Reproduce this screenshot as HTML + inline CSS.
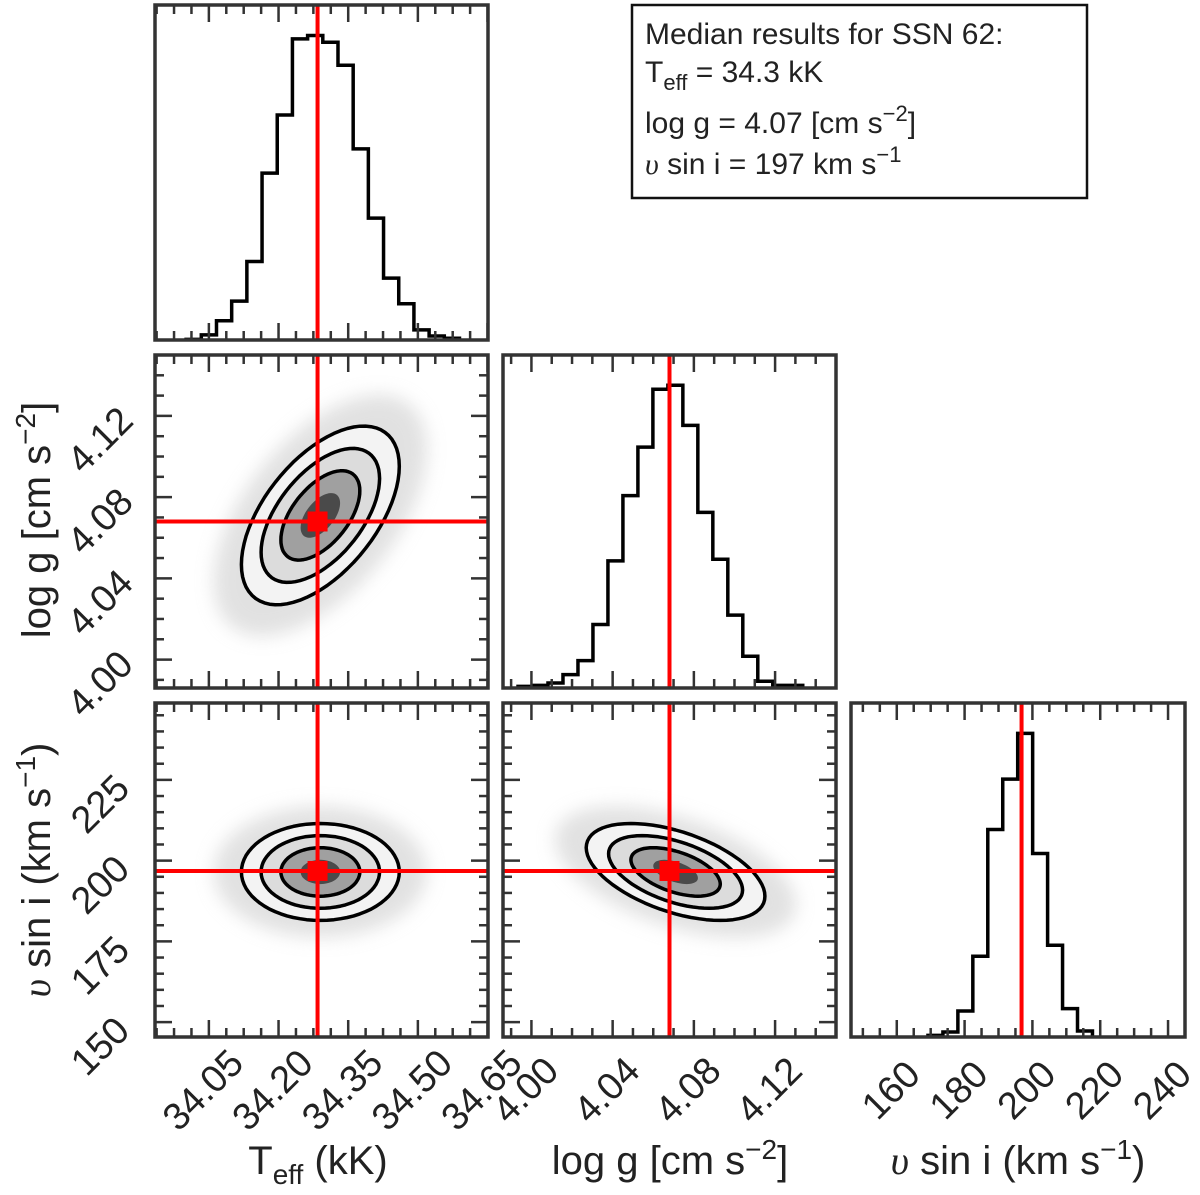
<!DOCTYPE html>
<html><head><meta charset="utf-8"><style>
html,body{margin:0;padding:0;background:#fff;}
svg{display:block;font-family:"Liberation Sans",sans-serif;}
</style></head><body>
<svg id="fig" width="1200" height="1195" viewBox="0 0 1200 1195" xmlns="http://www.w3.org/2000/svg">
<defs>
<filter id="blur" x="-50%" y="-50%" width="200%" height="200%"><feGaussianBlur stdDeviation="9"/></filter>
</defs>
<g id="layer"></g>
<g>
<rect x="632" y="5" width="455" height="193" fill="#fff" stroke="#111" stroke-width="2.5"/>
<text x="645" y="44" font-size="30" fill="#222">Median results for SSN 62:</text>
<text x="645" y="82" font-size="30" fill="#222">T<tspan font-size="22" dy="8">eff</tspan><tspan dy="-8"> = 34.3 kK</tspan></text>
<text x="645" y="133" font-size="30" fill="#222">log g = 4.07 [cm s<tspan font-size="22" dy="-12">−2</tspan><tspan dy="12">]</tspan></text>
<text x="645" y="174" font-size="30" fill="#222"><tspan font-family="Liberation Serif" font-style="italic">υ</tspan> sin i = 197 km s<tspan font-size="22" dy="-12">−1</tspan></text>
</g>
<text transform="translate(50,520) rotate(-90)" text-anchor="middle" font-size="40" fill="#222">log g [cm s<tspan font-size="28" dy="-15">−2</tspan><tspan dy="15">]</tspan></text>
<text transform="translate(50,870) rotate(-90)" text-anchor="middle" font-size="40" fill="#222"><tspan font-family="Liberation Serif" font-style="italic">υ</tspan> sin i (km s<tspan font-size="28" dy="-15">−1</tspan><tspan dy="15">)</tspan></text>
<text x="318" y="1174" text-anchor="middle" font-size="40" fill="#222">T<tspan font-size="28" dy="10">eff</tspan><tspan dy="-10"> (kK)</tspan></text>
<text x="670" y="1174" text-anchor="middle" font-size="40" fill="#222">log g [cm s<tspan font-size="28" dy="-15">−2</tspan><tspan dy="15">]</tspan></text>
<text x="1018" y="1174" text-anchor="middle" font-size="40" fill="#222"><tspan font-family="Liberation Serif" font-style="italic">υ</tspan> sin i (km s<tspan font-size="28" dy="-15">−1</tspan><tspan dy="15">)</tspan></text>
</svg>
<script>
// ---- data ----
const paramNames = ['teff','logg','vsini'];
const medians = [34.284, 4.068, 196.8];
const means = [34.29, 4.071, 196.5];
const sigmas = [0.085, 0.022, 7.5];
const corrTeffLogg = 0.55;
const corrTeffVsini = 0.0;
const corrLoggVsini = -0.5;
const contourLevels = [2, 1.5, 1];
const teffHistStart = 34.001, teffHistWidth = 0.0327;
const teffHistCounts = [2,15,57,115,232,493,665,890,900,880,812,565,360,183,107,30,12,5];
const loggHistStart = 3.9934, loggHistWidth = 0.00738;
const loggHistCounts = [5,8,15,40,82,190,380,575,720,893,905,785,525,385,218,95,20,8,8];
const vsiniHistStart = 169.2, vsiniHistWidth = 4.41;
const vsiniHistCounts = [5,15,78,242,622,773,910,550,275,85,18];
const teffTicks = [34.05,34.20,34.35,34.50,34.65];
const teffTickLabels = ['34.05','34.20','34.35','34.50','34.65'];
const loggTicks = [4.00,4.04,4.08,4.12];
const loggTickLabels = ['4.00','4.04','4.08','4.12'];
const vsiniYTicks = [150,175,200,225];
const vsiniYTickLabels = ['150','175','200','225'];
const vsiniXTicks = [160,180,200,220,240];
const vsiniXTickLabels = ['160','180','200','220','240'];

// ---- axes ----
const NS='http://www.w3.org/2000/svg';
const layer=document.getElementById('layer');
const cols=[[155,488],[503,836],[851,1185]];
const rows=[[5,340],[355,688],[703,1037]];
const xDom={teff:[33.934,34.651],logg:[3.986,4.150],vsini:[146.5,245.0]};
const yDom={logg:[3.986,4.150],vsini:[145.4,248.8]};
function sx(p,col,v){const d=xDom[p],c=cols[col];return c[0]+(v-d[0])/(d[1]-d[0])*(c[1]-c[0]);}
function sy(p,row,v){const d=yDom[p],r=rows[row];return r[1]-(v-d[0])/(d[1]-d[0])*(r[1]-r[0]);}
function mk(tag,attrs,parent){const e=document.createElementNS(NS,tag);for(const k in attrs)e.setAttribute(k,attrs[k]);(parent||layer).appendChild(e);return e;}
let clipId=0;
function panelGroup(col,row,name){
  const c=cols[col],r=rows[row];const id='clip'+(clipId++);
  const cp=mk('clipPath',{id:id});mk('rect',{x:c[0],y:r[0],width:c[1]-c[0],height:r[1]-r[0]},cp);
  const g=mk('g',{'clip-path':'url(#'+id+')'});
  
  
  return g;
}
function frame(col,row,xt,xminor,xp,yt,yminor,yp){
  const c=cols[col],r=rows[row];
  const g=mk('g',{stroke:'#333','stroke-width':2.5});
  
  
  if(xt){const d=xDom[xp];
    for(let v=Math.ceil((d[0]-1e-9)/xminor)*xminor;v<=d[1]+1e-9;v+=xminor){
      const x=sx(xp,col,v);const major=xt.some(t=>Math.abs(t-v)<xminor/4);const L=major?17:9;
      mk('line',{x1:x,x2:x,y1:r[1],y2:r[1]-L},g);mk('line',{x1:x,x2:x,y1:r[0],y2:r[0]+L},g);}
  }
  if(yt){const d=yDom[yp];
    for(let v=Math.ceil((d[0]-1e-9)/yminor)*yminor;v<=d[1]+1e-9;v+=yminor){
      const y=sy(yp,row,v);const major=yt.some(t=>Math.abs(t-v)<yminor/4);const L=major?17:9;
      mk('line',{x1:c[0],x2:c[0]+L,y1:y,y2:y},g);mk('line',{x1:c[1],x2:c[1]-L,y1:y,y2:y},g);}
  }
  mk('rect',{x:c[0],y:r[0],width:c[1]-c[0],height:r[1]-r[0],fill:'none',stroke:'#333','stroke-width':3.5},g);
}
function hist(col,row,p,start,w,counts,name){
  const g=panelGroup(col,row,name);const r=rows[row];const mx=Math.max(...counts);
  const hs=(r[1]-r[0])/1.1;let d='M'+sx(p,col,start)+','+r[1];
  counts.forEach((cnt,i)=>{const x0=sx(p,col,start+i*w),x1=sx(p,col,start+(i+1)*w),y=r[1]-cnt/mx*hs;d+=' L'+x0+','+y+' L'+x1+','+y;});
  d+=' L'+sx(p,col,start+counts.length*w)+','+r[1];
  const path=mk('path',{d:d,fill:'none',stroke:'#000','stroke-width':3.5},g);
  
  
  const x=sx(p,col,medians[paramNames.indexOf(p)]);
  const ml=mk('line',{x1:x,x2:x,y1:r[0],y2:r[1],stroke:'#f00','stroke-width':4},g);
  
  
}
function ell(px,py,col,row,rho,k){
  const i=paramNames.indexOf(px),j=paramNames.indexOf(py);let pts=[];
  for(let a=0;a<72;a++){const t=a/72*2*Math.PI;
    const vx=means[i]+k*sigmas[i]*Math.cos(t);
    const vy=means[j]+k*sigmas[j]*(rho*Math.cos(t)+Math.sqrt(1-rho*rho)*Math.sin(t));
    pts.push(sx(px,col,vx).toFixed(1)+','+sy(py,row,vy).toFixed(1));}
  return pts.join(' ');
}
function scatter2d(col,row,px,py,rho,name){
  const g=panelGroup(col,row,name);const c=cols[col],r=rows[row];
  const cloud=mk('polygon',{points:ell(px,py,col,row,rho,2.7),fill:'#c4c4c4',opacity:0.5,filter:'url(#blur)'},g);
  
  
  const fills=[[2,'#f3f3f3'],[1.5,'#dcdcdc'],[1,'#a0a0a0'],[0.5,'#4a4a4a']];
  fills.forEach(f=>{const e=mk('polygon',{points:ell(px,py,col,row,rho,f[0]),fill:f[1]},g);
    
    });
  contourLevels.forEach(k=>{const e=mk('polygon',{points:ell(px,py,col,row,rho,k),fill:'none',stroke:'#000','stroke-width':3.5,'stroke-linejoin':'round'},g);
    
    });
  const mx=sx(px,col,medians[paramNames.indexOf(px)]),my=sy(py,row,medians[paramNames.indexOf(py)]);
  const l1=mk('line',{x1:mx,x2:mx,y1:r[0],y2:r[1],stroke:'#f00','stroke-width':4},g);
  
  
  const l2=mk('line',{x1:c[0],x2:c[1],y1:my,y2:my,stroke:'#f00','stroke-width':4},g);
  
  
  const sq=mk('rect',{x:mx-10,y:my-10,width:20,height:20,fill:'#f00'},g);
  
  
}
function xLabels(col,p,ticks,labels){
  ticks.forEach((v,i)=>{const x=sx(p,col,v);
    const t=mk('text',{transform:'translate('+(x-4)+',1092) rotate(-45)','text-anchor':'middle','font-size':38,fill:'#222','dominant-baseline':'middle'});
    t.textContent=labels[i];
    
    });
}
function yLabels(row,p,ticks,labels){
  ticks.forEach((v,i)=>{const y=sy(p,row,v);
    const t=mk('text',{transform:'translate(102,'+(y+26)+') rotate(-45)','text-anchor':'middle','font-size':38,fill:'#222','dominant-baseline':'middle'});
    t.textContent=labels[i];
    
    });
}
// panels
hist(0,0,'teff',teffHistStart,teffHistWidth,teffHistCounts,'hist-teff');
frame(0,0,teffTicks,0.0375,'teff',null);
scatter2d(0,1,'teff','logg',corrTeffLogg,'panel-teff-logg');
frame(0,1,teffTicks,0.0375,'teff',loggTicks,0.01,'logg');
hist(1,1,'logg',loggHistStart,loggHistWidth,loggHistCounts,'hist-logg');
frame(1,1,loggTicks,0.01,'logg',null);
scatter2d(0,2,'teff','vsini',corrTeffVsini,'panel-teff-vsini');
frame(0,2,teffTicks,0.0375,'teff',vsiniYTicks,5,'vsini');
scatter2d(1,2,'logg','vsini',corrLoggVsini,'panel-logg-vsini');
frame(1,2,loggTicks,0.01,'logg',vsiniYTicks,5,'vsini');
hist(2,2,'vsini',vsiniHistStart,vsiniHistWidth,vsiniHistCounts,'hist-vsini');
frame(2,2,vsiniXTicks,5,'vsini',null);
xLabels(0,'teff',teffTicks,teffTickLabels);
xLabels(1,'logg',loggTicks,loggTickLabels);
xLabels(2,'vsini',vsiniXTicks,vsiniXTickLabels);
yLabels(1,'logg',loggTicks,loggTickLabels);
yLabels(2,'vsini',vsiniYTicks,vsiniYTickLabels);
</script>
</body></html>
